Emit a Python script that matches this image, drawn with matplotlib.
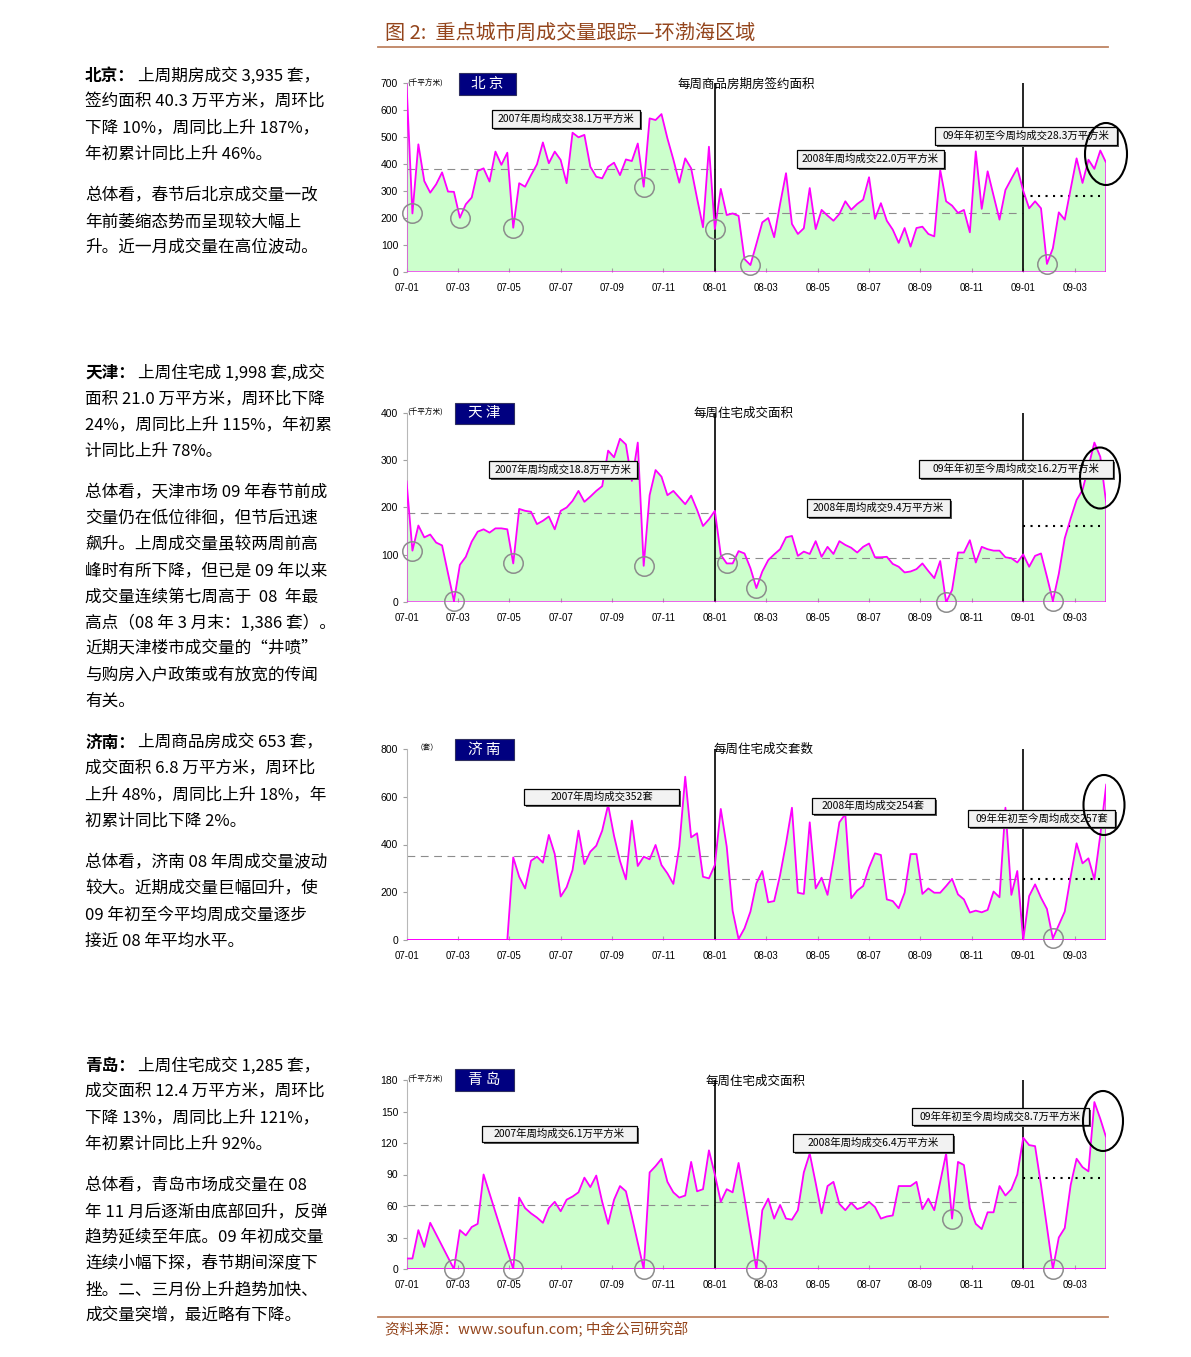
import numpy as np
import matplotlib
matplotlib.use('Agg')
import matplotlib.pyplot as plt
from matplotlib.patches import Rectangle, Ellipse

plt.rcParams['font.family'] = ['Noto Sans CJK SC', 'DejaVu Sans']

# ---------------- data: weekly values, week 0 = first week of 2007 ----------------
month_labels = ['07-01', '07-03', '07-05', '07-07', '07-09', '07-11', '08-01',
                '08-03', '08-05', '08-07', '08-09', '08-11', '09-01', '09-03']
month_index = [0, 2, 4, 6, 8, 10, 12, 14, 16, 18, 20, 22, 24, 26]

# 北京 千平方米
beijing = [700, 218, 474, 338, 295, 326, 370, 299, 298, 202,
           252, 277, 375, 385, 336, 447, 398, 443, 165, 330,
           317, 360, 400, 481, 404, 447, 416, 330, 517, 500,
           509, 391, 354, 348, 391, 406, 360, 418, 412, 477,
           317, 570, 564, 586, 496, 418, 332, 422, 385, 274,
           167, 465, 160, 309, 212, 218, 209, 49, 27, 105,
           185, 201, 130, 253, 367, 179, 142, 163, 312, 160,
           231, 210, 191, 216, 263, 232, 253, 269, 352, 198,
           256, 191, 158, 109, 164, 95, 164, 169, 142, 133,
           379, 263, 247, 220, 231, 148, 448, 235, 374, 284,
           195, 305, 346, 386, 302, 237, 263, 237, 31, 89,
           222, 195, 309, 422, 331, 417, 383, 451, 405]

# 天津 千平方米
tianjin = [256, 109, 162, 137, 143, 126, 120, 61, 3, 79,
           96, 128, 149, 154, 147, 156, 156, 154, 82, 197,
           193, 191, 165, 172, 181, 154, 193, 200, 214, 235,
           212, 223, 235, 245, 320, 306, 345, 333, 256, 337,
           77, 226, 279, 265, 226, 235, 221, 207, 225, 195,
           161, 175, 193, 100, 82, 82, 108, 103,
           72, 30, 65, 89, 101, 112, 137, 140, 98, 107,
           102, 129, 96, 117, 102, 129, 121, 115, 105, 117,
           124, 95, 95, 96, 81, 75, 63, 65, 70, 82,
           66, 51, 87, 0, 26, 105, 105, 131, 84, 117,
           112, 109, 109, 95, 93, 84, 101, 75, 98, 103,
           54, 3, 60, 135, 177, 216, 237, 286, 337, 307, 209]

# 济南 套
jinan = [0, 0, 0, 0, 0, 0, 0, 0, 0, 0,
         0, 0, 0, 0, 0, 0, 0, 0,
         346, 265, 216, 332, 349, 324, 440, 360, 182, 221,
         293, 458, 318, 370, 395, 458, 566, 436, 331, 254,
         500, 310, 349, 338, 398, 314, 279, 235, 391, 684,
         430, 447, 265, 258, 314, 549, 391, 122, 4, 49,
         119, 237, 289, 158, 163, 272, 405, 554, 198, 193,
         493, 216, 261, 189, 335, 493, 527, 175, 207, 226,
         303, 363, 356, 170, 163, 133, 198, 360, 360, 193,
         216, 198, 198, 226, 256, 191, 170, 115, 123, 116,
         126, 203, 179, 554, 189, 289, 0, 184, 233, 177,
         130, 7, 63, 119, 265, 405, 321, 342, 254, 440,
         652]

# 青岛 千平方米
qingdao = [10, 10, 37, 21, 44, 33, 22, 11, 0, 37,
           32, 40, 43, 90, 72, 54, 36, 18, 0, 68,
           58, 53, 49, 44, 58, 64, 55, 66, 69, 73,
           87, 78, 89, 64, 43, 66, 79, 74, 50, 25,
           0, 92, 98, 105, 83, 73, 68, 70, 102, 74,
           76, 113, 90, 64, 76, 73, 101, 68, 34, 0,
           56, 67, 48, 61, 48, 47, 56, 92, 110, 82,
           53, 79, 83, 62, 56, 63, 57, 59, 64, 59,
           48, 50, 51, 79, 79, 79, 83, 57, 67, 56,
           83, 110, 48, 102, 99, 58, 43, 38, 54, 54,
           79, 70, 76, 90, 125, 118, 117, 80, 40, 0,
           30, 39, 80, 105, 97, 93, 159, 143, 125]

# 2007 / 2008 / 2009年初至今 周均
beijing_avg = [381, 220, 283]
tianjin_avg = [188, 94, 162]
jinan_avg = [352, 254, 257]
qingdao_avg = [61, 64, 87]

# weeks marked with grey circles
beijing_circ = [1, 9, 18, 40, 52, 58, 108]
tianjin_circ = [1, 8, 18, 40, 54, 59, 91, 109]
jinan_circ = [109]
qingdao_circ = [8, 18, 40, 59, 92, 109]

year_start = [0, 52, 104]

# ---------------- figure ----------------
W, H = 1191, 1357
fig = plt.figure(figsize=(W / 100, H / 100), dpi=100)

X0 = 406.5
PXW = 5.93
NSPAN = 118


def chart(vals, top, bottom, ymax, ystep, avg, circ):
    ax = fig.add_axes([X0 / W, 1 - bottom / H, NSPAN * PXW / W, (bottom - top) / H])
    x = np.arange(len(vals))
    v = np.array(vals, dtype=float)
    ax.fill_between(x, 0, v, facecolor='#CCFFCC', edgecolor='none', zorder=1)
    ends = [year_start[1], year_start[2], len(vals) - 2]
    for i in range(2):
        ax.hlines(avg[i], year_start[i], ends[i], colors='#8C8C8C',
                  linestyles=(0, (7, 5)), linewidth=0.8, zorder=2)
    ax.hlines(avg[2], year_start[2], ends[2], colors='black',
              linestyles=(0, (1, 2.6)), linewidth=1.5, zorder=2)
    for ys in year_start[1:]:
        ax.axvline(ys, color='black', lw=1.2, zorder=2.5)
    ax.fill_between(x, 0, v, facecolor='none', edgecolor='#FF00FF', lw=1.3, zorder=3)
    ax.plot(circ, v[circ], 'o', ms=14, mfc='none', mec='#8C8C8C', mew=1.1,
            clip_on=False, zorder=4)
    ax.set_xlim(0, NSPAN)
    ax.set_ylim(0, ymax)
    ax.set_xticks(np.array(month_index) * 52 / 12, month_labels)
    ax.set_yticks(np.arange(0, ymax + 1, ystep))
    for s in ['top', 'right', 'bottom']:
        ax.spines[s].set_visible(False)
    ax.spines['left'].set_color('#B8B8B8')
    ax.patch.set_alpha(0)
    ax.tick_params(axis='x', direction='in', length=3, color='#A0A0A0',
                   labelsize=7, pad=8)
    ax.tick_params(axis='y', direction='out', length=3, color='#A0A0A0',
                   labelsize=7.5, pad=3)
    for lab in ax.get_xticklabels() + ax.get_yticklabels():
        lab.set_fontfamily('Liberation Sans')
    return ax


chart(beijing, 83.3, 272.3, 700, 100, beijing_avg, beijing_circ)
chart(tianjin, 412.7, 602.3, 400, 100, tianjin_avg, tianjin_circ)
chart(jinan, 749, 940, 800, 200, jinan_avg, jinan_circ)
chart(qingdao, 1080, 1269, 180, 30, qingdao_avg, qingdao_circ)

# ---------------- overlay in pixel coordinates ----------------
ov = fig.add_axes([0, 0, 1, 1], zorder=10)
ov.set_xlim(0, W)
ov.set_ylim(H, 0)
ov.axis('off')

brown = '#94451C'
ov.text(385, 33, '图 2:  重点城市周成交量跟踪—环渤海区域', color=brown,
        fontsize=14.5, va='center')
ov.plot([378, 1108], [47, 47], color='#BE8462', lw=1.3)
ov.plot([378, 1108], [1317, 1317], color='#BE8462', lw=1.3)
ov.text(385, 1330, '资料来源：www.soufun.com; 中金公司研究部', color=brown,
        fontsize=10.5, va='center')


def note(x0, y0, x1, y1, s):
    ov.add_patch(Rectangle((x0 + 2, y0 + 2), x1 - x0, y1 - y0, fc='#555555', ec='none'))
    ov.add_patch(Rectangle((x0, y0), x1 - x0, y1 - y0, fc='#F2F2F2', ec='black', lw=0.9))
    ov.text((x0 + x1) / 2, (y0 + y1) / 2, s, ha='center', va='center', fontsize=7.5)


def tag(x0, y0, x1, y1, s):
    ov.add_patch(Rectangle((x0, y0), x1 - x0, y1 - y0, fc='#000080', ec='#303060', lw=0.8))
    ov.text((x0 + x1) / 2, (y0 + y1) / 2, s, ha='center', va='center',
            fontsize=10.5, color='white')


def ring(cx, cy, w, h):
    ov.add_patch(Ellipse((cx, cy), w, h, fill=False, ec='black', lw=1.5))


# 北京
tag(459, 73, 516, 95, '北 京')
ov.text(407, 83, '(千平方米)', fontsize=5.5, va='center')
ov.text(746, 84, '每周商品房期房签约面积', fontsize=9, ha='center', va='center')
note(492, 110, 640, 128, '2007年周均成交38.1万平方米')
note(797, 150, 944, 168, '2008年周均成交22.0万平方米')
note(935, 127, 1117, 145, '09年年初至今周均成交28.3万平方米')
ring(1106, 154, 42, 62)

# 天津
tag(455, 403, 514, 424, '天 津')
ov.text(407, 412, '(千平方米)', fontsize=5.5, va='center')
ov.text(743, 413, '每周住宅成交面积', fontsize=9, ha='center', va='center')
note(489, 461, 637, 478, '2007年周均成交18.8万平方米')
note(807, 499, 950, 517, '2008年周均成交9.4万平方米')
note(919, 460, 1113, 478, '09年年初至今周均成交16.2万平方米')
ring(1100, 478, 40, 61)

# 济南
tag(455, 739, 514, 760, '济 南')
ov.text(416, 748, '（套）', fontsize=5.5, va='center')
ov.text(764, 749, '每周住宅成交套数', fontsize=9, ha='center', va='center')
note(524, 789, 679, 805, '2007年周均成交352套')
note(812, 798, 935, 814, '2008年周均成交254套')
note(968, 810, 1115, 827, '09年年初至今周均成交257套')
ring(1104, 805, 41, 60)

# 青岛
tag(455, 1069, 514, 1091, '青 岛')
ov.text(407, 1079, '(千平方米)', fontsize=5.5, va='center')
ov.text(756, 1081, '每周住宅成交面积', fontsize=9, ha='center', va='center')
note(482, 1126, 637, 1142, '2007年周均成交6.1万平方米')
note(793, 1134, 953, 1152, '2008年周均成交6.4万平方米')
note(912, 1108, 1089, 1125, '09年年初至今周均成交8.7万平方米')
ring(1103, 1121, 40, 60)

# ---------------- commentary on the left ----------------
bj_text = [('北京：', '上周期房成交 3,935 套，'),
           '签约面积 40.3 万平方米，周环比',
           '下降 10%，周同比上升 187%，',
           '年初累计同比上升 46%。',
           '总体看，春节后北京成交量一改',
           '年前萎缩态势而呈现较大幅上',
           '升。近一月成交量在高位波动。']
tj_text = [('天津：', '上周住宅成 1,998 套,成交'),
           '面积 21.0 万平方米，周环比下降',
           '24%，周同比上升 115%，年初累',
           '计同比上升 78%。',
           '总体看，天津市场 09 年春节前成',
           '交量仍在低位徘徊，但节后迅速',
           '飙升。上周成交量虽较两周前高',
           '峰时有所下降，但已是 09 年以来',
           '成交量连续第七周高于  08  年最',
           '高点（08 年 3 月末：1,386 套）。',
           '近期天津楼市成交量的“井喷”',
           '与购房入户政策或有放宽的传闻',
           '有关。']
jn_text = [('济南：', '上周商品房成交 653 套，'),
           '成交面积 6.8 万平方米，周环比',
           '上升 48%，周同比上升 18%，年',
           '初累计同比下降 2%。',
           '总体看，济南 08 年周成交量波动',
           '较大。近期成交量巨幅回升，使',
           '09 年初至今平均周成交量逐步',
           '接近 08 年平均水平。']
qd_text = [('青岛：', '上周住宅成交 1,285 套，'),
           '成交面积 12.4 万平方米，周环比',
           '下降 13%，周同比上升 121%，',
           '年初累计同比上升 92%。',
           '总体看，青岛市场成交量在 08',
           '年 11 月后逐渐由底部回升，反弹',
           '趋势延续至年底。09 年初成交量',
           '连续小幅下探，春节期间深度下',
           '挫。二、三月份上升趋势加快、',
           '成交量突增，最近略有下降。']


def block(lines, y0):
    for i, ln in enumerate(lines):
        y = y0 + 26 * i + (16 if i >= 4 else 0)
        if isinstance(ln, tuple):
            ov.text(85, y, ln[0], fontsize=12, fontweight='bold', va='center')
            ov.text(138, y, ln[1], fontsize=12, va='center')
        else:
            ov.text(85, y, ln, fontsize=12, va='center')


block(bj_text, 76)
block(tj_text, 373)
block(jn_text, 743)
block(qd_text, 1066)

fig.savefig('out.png', dpi=100)
